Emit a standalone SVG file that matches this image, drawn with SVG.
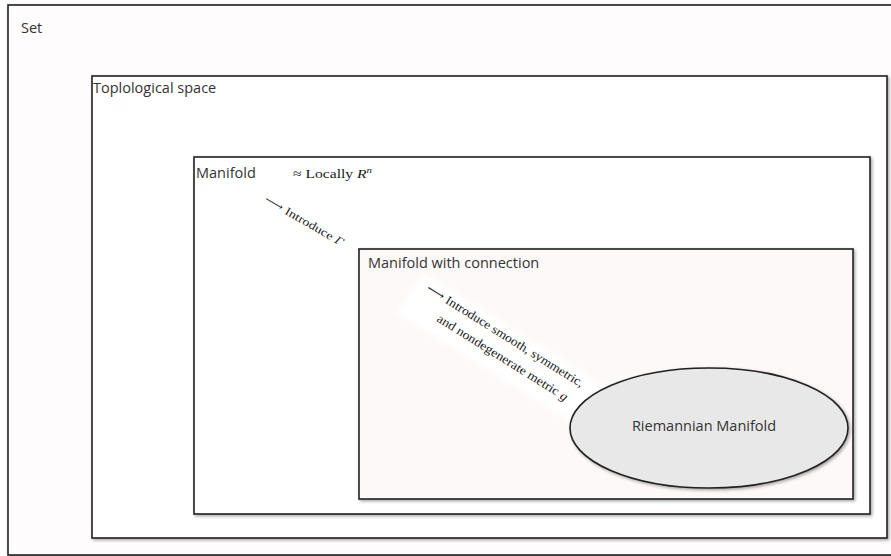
<svg xmlns="http://www.w3.org/2000/svg" width="891" height="556" viewBox="0 0 891 556">
<defs>
<filter id="sh" x="-5%" y="-5%" width="110%" height="110%">
<feDropShadow dx="1.5" dy="1.5" stdDeviation="1.8" flood-color="#000" flood-opacity="0.35"/>
</filter>
<filter id="soft" x="-10%" y="-30%" width="120%" height="160%">
<feGaussianBlur stdDeviation="2.5"/>
</filter>
<style>
.box{stroke:#222;stroke-width:1.6;filter:url(#sh)}
.lbl{font-family:"Open Sans","Liberation Sans",sans-serif;font-size:14.5px;fill:#333}
.math{font-family:"Liberation Serif","DejaVu Serif",serif;fill:#1a1a1a}
</style>
</defs>
<rect width="891" height="556" fill="#ffffff"/>
<g id="set">
<rect class="box" x="8" y="5" width="886" height="550" fill="#fffcfd"/>
<text class="lbl" x="21" y="33">Set</text>
</g>
<g id="topological-space">
<rect class="box" x="92" y="76" width="795" height="462" fill="#ffffff"/>
<text class="lbl" x="93" y="93">Toplological space</text>
</g>
<g id="manifold">
<rect class="box" x="194" y="157" width="676" height="357" fill="#ffffff"/>
<text class="lbl" x="196" y="178">Manifold</text>
<text class="math" x="293" y="178" font-size="13" textLength="79" lengthAdjust="spacingAndGlyphs">≈ Locally <tspan font-style="italic">R</tspan><tspan font-style="italic" font-size="9" dy="-5">n</tspan></text>
</g>
<g id="manifold-with-connection">
<rect class="box" x="359" y="249" width="494" height="250" fill="#fdf9f8"/>
<text class="lbl" x="368" y="268">Manifold with connection</text>
</g>
<g id="connectors">
<g transform="translate(265,199) rotate(30)">
<text class="math" x="0" y="3" font-size="11.5" textLength="89" lengthAdjust="spacingAndGlyphs">⟶ Introduce <tspan font-style="italic">Γ</tspan></text>
</g>
<g transform="translate(427,288) rotate(32)">
<rect x="-12" y="-11" width="222" height="48" fill="#ffffff" filter="url(#soft)"/>
<text class="math" x="0" y="3" font-size="12.5" textLength="183" lengthAdjust="spacingAndGlyphs">⟶ Introduce smooth, symmetric,</text>
<text class="math" x="25" y="23" font-size="12.5" textLength="152" lengthAdjust="spacingAndGlyphs">and nondegenerate metric <tspan font-style="italic">g</tspan></text>
</g>
</g>
<g id="riemannian-manifold">
<ellipse class="box" cx="709" cy="428" rx="139" ry="60" fill="#e8e8e8"/>
<text class="lbl" x="704" y="431" text-anchor="middle">Riemannian Manifold</text>
</g>
</svg>
